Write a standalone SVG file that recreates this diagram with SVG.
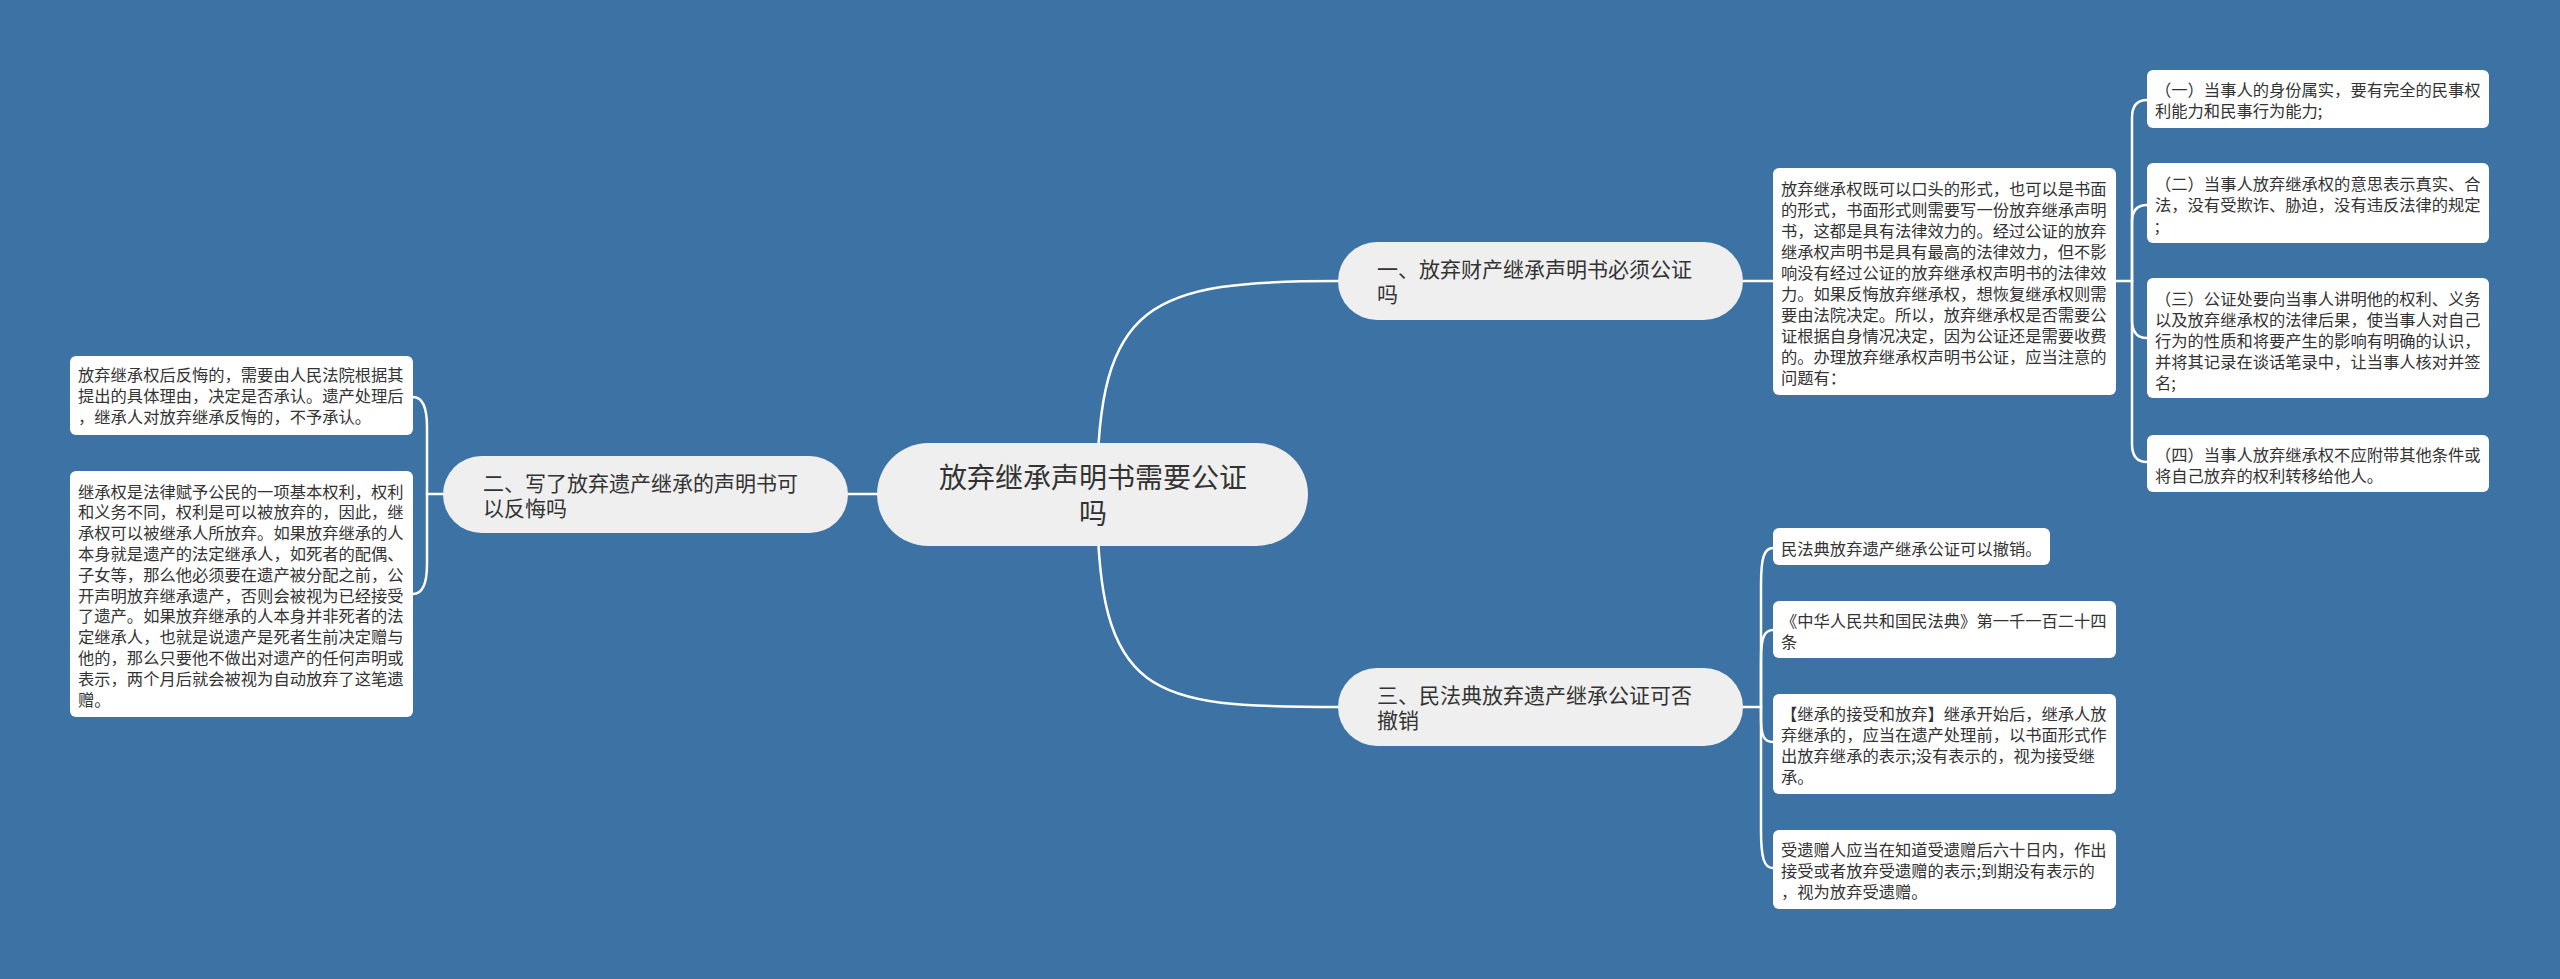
<svg xmlns="http://www.w3.org/2000/svg" width="2560" height="979" viewBox="0 0 2560 979">
<style>
.bg{fill:#3d72a5}
.pill{fill:#efefef}
.leaf{fill:#ffffff}
.ln{fill:none;stroke:#ffffff;stroke-width:2.5;stroke-linecap:round}
text{font-family:"Noto Sans CJK SC","Noto Sans CJK TC",sans-serif;fill:#333333}
.t-root{font-size:28px}
.t-br{font-size:21px}
.t-lf{font-size:16.3px}
</style>
<rect class="bg" x="0" y="0" width="2560" height="979"/>
<g id="connectors">
<path class="ln" d="M1097,494 C1097,300 1150,281 1338,281"/>
<path class="ln" d="M1097,494 C1097,700 1150,707 1338,707"/>
<path class="ln" d="M877,494 L848,494"/>
<path class="ln" d="M443,494 L427,494"/>
<path class="ln" d="M427,494 L427,427 C427,405 422,397 413,397"/>
<path class="ln" d="M427,494 L427,564 C427,586 422,594 413,594"/>
<path class="ln" d="M1743,281 L1773,281"/>
<path class="ln" d="M2116,281 L2132,281"/>
<path class="ln" d="M2132,281 L2132,118 C2132,106 2137,100 2147,100"/>
<path class="ln" d="M2132,281 L2132,222 C2132,211 2137,205 2147,205"/>
<path class="ln" d="M2132,281 L2132,320 C2132,332 2137,338 2147,338"/>
<path class="ln" d="M2132,281 L2132,444 C2132,456 2137,462 2147,462"/>
<path class="ln" d="M1743,707 L1761,707"/>
<path class="ln" d="M1761,707 L1761,585 C1761,558 1764,548 1773,548"/>
<path class="ln" d="M1761,707 L1761,660 C1761,638 1764,630 1773,630"/>
<path class="ln" d="M1761,707 L1761,718 C1761,736 1764,742 1773,742"/>
<path class="ln" d="M1761,707 L1761,830 C1761,858 1764,868 1773,868"/>
</g>
<g id="root">
<rect class="pill" x="877" y="443" width="431" height="103" rx="51.5"/>
<text class="t-root" x="1093" y="488" text-anchor="middle">放弃继承声明书需要公证</text>
<text class="t-root" x="1093" y="524" text-anchor="middle">吗</text>
</g>
<g id="branch1">
<rect class="pill" x="1338" y="242" width="405" height="78" rx="39"/>
<text class="t-br" x="1377" y="276.5">一、放弃财产继承声明书必须公证</text>
<text class="t-br" x="1377" y="301.5">吗</text>
</g>
<g id="branch2">
<rect class="pill" x="443" y="456" width="405" height="77" rx="38.5"/>
<text class="t-br" x="483" y="491">二、写了放弃遗产继承的声明书可</text>
<text class="t-br" x="483" y="516">以反悔吗</text>
</g>
<g id="branch3">
<rect class="pill" x="1338" y="668" width="405" height="78" rx="39"/>
<text class="t-br" x="1377" y="702.5">三、民法典放弃遗产继承公证可否</text>
<text class="t-br" x="1377" y="727.5">撤销</text>
</g>
<g id="leaf-b2-1">
<rect class="leaf" x="70" y="356" width="343" height="79" rx="6"/>
<text class="t-lf" x="78" y="381"><tspan x="78" dy="0">放弃继承权后反悔的，需要由人民法院根据其</tspan><tspan x="78" dy="21">提出的具体理由，决定是否承认。遗产处理后</tspan><tspan x="78" dy="21">，继承人对放弃继承反悔的，不予承认。</tspan></text>
</g>
<g id="leaf-b2-2">
<rect class="leaf" x="70" y="471" width="343" height="246" rx="6"/>
<text class="t-lf" x="78" y="497.5"><tspan x="78" dy="0">继承权是法律赋予公民的一项基本权利，权利</tspan><tspan x="78" dy="20.8">和义务不同，权利是可以被放弃的，因此，继</tspan><tspan x="78" dy="20.8">承权可以被继承人所放弃。如果放弃继承的人</tspan><tspan x="78" dy="20.8">本身就是遗产的法定继承人，如死者的配偶、</tspan><tspan x="78" dy="20.8">子女等，那么他必须要在遗产被分配之前，公</tspan><tspan x="78" dy="20.8">开声明放弃继承遗产，否则会被视为已经接受</tspan><tspan x="78" dy="20.8">了遗产。如果放弃继承的人本身并非死者的法</tspan><tspan x="78" dy="20.8">定继承人，也就是说遗产是死者生前决定赠与</tspan><tspan x="78" dy="20.8">他的，那么只要他不做出对遗产的任何声明或</tspan><tspan x="78" dy="20.8">表示，两个月后就会被视为自动放弃了这笔遗</tspan><tspan x="78" dy="20.8">赠。</tspan></text>
</g>
<g id="leaf-b1-main">
<rect class="leaf" x="1773" y="168" width="343" height="227" rx="6"/>
<text class="t-lf" x="1781" y="195"><tspan x="1781" dy="0">放弃继承权既可以口头的形式，也可以是书面</tspan><tspan x="1781" dy="21">的形式，书面形式则需要写一份放弃继承声明</tspan><tspan x="1781" dy="21">书，这都是具有法律效力的。经过公证的放弃</tspan><tspan x="1781" dy="21">继承权声明书是具有最高的法律效力，但不影</tspan><tspan x="1781" dy="21">响没有经过公证的放弃继承权声明书的法律效</tspan><tspan x="1781" dy="21">力。如果反悔放弃继承权，想恢复继承权则需</tspan><tspan x="1781" dy="21">要由法院决定。所以，放弃继承权是否需要公</tspan><tspan x="1781" dy="21">证根据自身情况决定，因为公证还是需要收费</tspan><tspan x="1781" dy="21">的。办理放弃继承权声明书公证，应当注意的</tspan><tspan x="1781" dy="21">问题有：</tspan></text>
</g>
<g id="leaf-b1-1">
<rect class="leaf" x="2147" y="70" width="342" height="58" rx="6"/>
<text class="t-lf" x="2155" y="96"><tspan x="2155" dy="0">（一）当事人的身份属实，要有完全的民事权</tspan><tspan x="2155" dy="21">利能力和民事行为能力;</tspan></text>
</g>
<g id="leaf-b1-2">
<rect class="leaf" x="2147" y="163" width="342" height="80" rx="6"/>
<text class="t-lf" x="2155" y="190"><tspan x="2155" dy="0">（二）当事人放弃继承权的意思表示真实、合</tspan><tspan x="2155" dy="21">法，没有受欺诈、胁迫，没有违反法律的规定</tspan><tspan x="2155" dy="21">;</tspan></text>
</g>
<g id="leaf-b1-3">
<rect class="leaf" x="2147" y="278" width="342" height="120" rx="6"/>
<text class="t-lf" x="2155" y="305"><tspan x="2155" dy="0">（三）公证处要向当事人讲明他的权利、义务</tspan><tspan x="2155" dy="21">以及放弃继承权的法律后果，使当事人对自己</tspan><tspan x="2155" dy="21">行为的性质和将要产生的影响有明确的认识，</tspan><tspan x="2155" dy="21">并将其记录在谈话笔录中，让当事人核对并签</tspan><tspan x="2155" dy="21">名;</tspan></text>
</g>
<g id="leaf-b1-4">
<rect class="leaf" x="2147" y="435" width="342" height="57" rx="6"/>
<text class="t-lf" x="2155" y="461"><tspan x="2155" dy="0">（四）当事人放弃继承权不应附带其他条件或</tspan><tspan x="2155" dy="21">将自己放弃的权利转移给他人。</tspan></text>
</g>
<g id="leaf-b3-1">
<rect class="leaf" x="1773" y="528" width="277" height="37" rx="6"/>
<text class="t-lf" x="1781" y="555">民法典放弃遗产继承公证可以撤销。</text>
</g>
<g id="leaf-b3-2">
<rect class="leaf" x="1773" y="601" width="343" height="57" rx="6"/>
<text class="t-lf" x="1781" y="627"><tspan x="1781" dy="0">《中华人民共和国民法典》第一千一百二十四</tspan><tspan x="1781" dy="21">条</tspan></text>
</g>
<g id="leaf-b3-3">
<rect class="leaf" x="1773" y="694" width="343" height="100" rx="6"/>
<text class="t-lf" x="1781" y="720"><tspan x="1781" dy="0">【继承的接受和放弃】继承开始后，继承人放</tspan><tspan x="1781" dy="21">弃继承的，应当在遗产处理前，以书面形式作</tspan><tspan x="1781" dy="21">出放弃继承的表示;没有表示的，视为接受继</tspan><tspan x="1781" dy="21">承。</tspan></text>
</g>
<g id="leaf-b3-4">
<rect class="leaf" x="1773" y="830" width="343" height="79" rx="6"/>
<text class="t-lf" x="1781" y="856"><tspan x="1781" dy="0">受遗赠人应当在知道受遗赠后六十日内，作出</tspan><tspan x="1781" dy="21">接受或者放弃受遗赠的表示;到期没有表示的</tspan><tspan x="1781" dy="21">，视为放弃受遗赠。</tspan></text>
</g>
</svg>
